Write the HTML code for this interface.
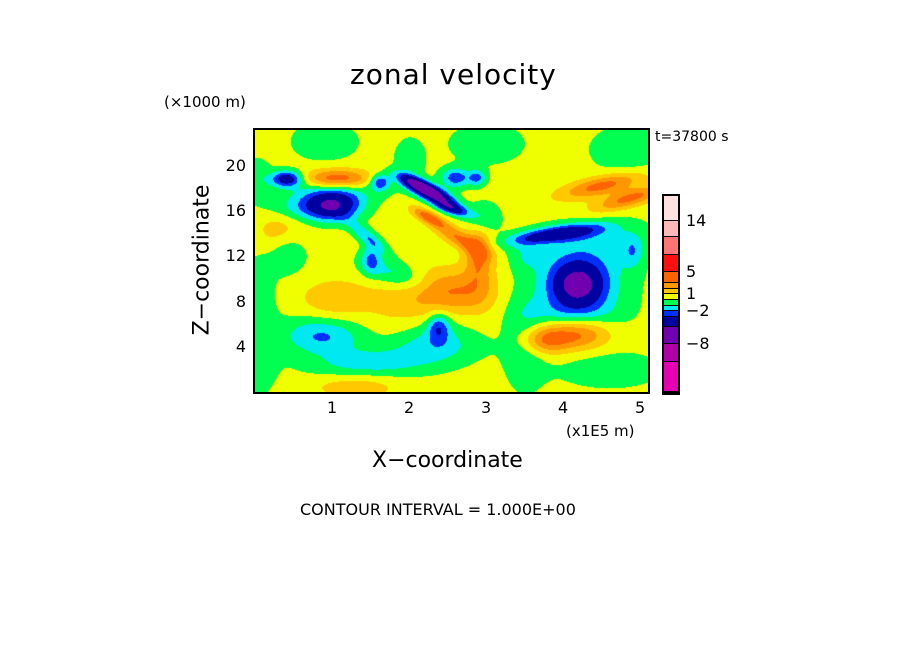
<!DOCTYPE html>
<html><head><meta charset="utf-8"><style>
body{margin:0;background:#fff;}
#root{position:relative;width:904px;height:654px;background:#fff;font-family:"DejaVu Sans","Liberation Sans",sans-serif;color:#000;}
.t{position:absolute;white-space:nowrap;}
</style></head><body>
<div id="root">
<div class="t" style="left:350px;top:58px;font-size:28px;letter-spacing:1px;">zonal velocity</div>
<div class="t" style="left:164px;top:93px;font-size:15px;">(×1000 m)</div>
<div class="t" style="left:655px;top:129px;font-size:14px;">t=37800 s</div>
<div class="t" style="left:202px;top:260px;font-size:22px;transform:translate(-50%,-50%) rotate(-90deg);">Z−coordinate</div>
<div class="t" style="left:372px;top:448px;font-size:22px;">X−coordinate</div>
<div class="t" style="left:566px;top:422px;font-size:15px;">(x1E5 m)</div>
<div class="t" style="left:300px;top:500px;font-size:16px;">CONTOUR INTERVAL = 1.000E+00</div>
<canvas id="cv" width="393" height="262" style="position:absolute;left:255px;top:130px;"></canvas>
<div style="position:absolute;left:254px;top:129px;width:393px;height:262px;border:2px solid #000;margin:-1px 0 0 -1px;"></div>
<div id="cbar" style="position:absolute;left:662px;top:194px;width:14px;height:197px;border:2px solid #000;background:#000;"></div>
</div>
<script>
const levels=[-11,-8,-5,-3,-2,-1,0,1,2,3,5,8,11,14];
const colors=["#e600b4","#b000a8","#7000b0","#0000a0","#0030ff","#00e8f0","#00ff50","#f0ff00","#ffc800","#ff9800","#ff6400","#ff1010","#ff7474","#ffb8b8","#ffe0e0"];
const cbTickLabels=["14","5","1","−2","−8"];
const cbTickValues=[14,5,1,-2,-8];
const xTicks=[1,2,3,4,5];
const zTicks=[4,8,12,16,20];
const baseValue=0.4;
const blobX=[1.0,0.41,2.05,2.3,2.55,2.25,2.65,1.06,3.9,4.18,4.5,4.87,2.5,2.0,4.2,3.75,0.85,2.38,1.5,1.45,1.8,2.96,4.9,1.62,2.6,2.88,0.9,4.85,0.05,1.7,3.5,0.4,0.3,1.0,2.9,4.25,0.0,4.1,1.0,4.2,3.0,2.9,0.05,2.3,2.35,1.3,0.5,3.5,4.5,0.9,1.2,4.6,2.0];
const blobZ=[16.5,18.9,18.6,17.6,16.3,15.5,13.6,18.9,14.0,9.5,18.3,17.2,9.0,8.0,5.2,4.7,4.8,5.8,11.8,13.8,10.5,15.4,12.5,18.6,19.0,19.0,22.2,21.5,8.0,2.6,4.5,12.4,14.0,8.0,12.4,9.5,19.0,7.0,17.8,11.8,22.0,9.0,2.0,4.0,5.0,0.6,16.3,12.2,14.0,6.0,2.5,2.0,20.5];
const blobAmp=[-5.2,-4.5,-4.2,-6.2,-4.2,3.2,2.6,3.6,-4.4,-4.9,3.1,3.0,2.0,1.2,3.0,3.0,-1.9,-2.6,-2.2,-2.2,-1.8,-1.6,-1.8,-3.4,-3.1,-2.6,-1.2,-1.2,-1.1,-1.1,-1.3,-1.8,1.5,1.5,2.8,-1.7,-1.2,-1.2,-1.4,-1.0,-1.1,1.2,-1.0,-1.0,-1.2,1.3,-1.4,-1.0,-1.0,-1.0,-1.0,-1.0,-1.0];
const blobSX=[0.25,0.14,0.12,0.14,0.12,0.1,0.14,0.3,0.32,0.24,0.28,0.22,0.3,0.45,0.28,0.22,0.35,0.1,0.09,0.1,0.25,0.15,0.1,0.09,0.13,0.08,0.3,0.35,0.15,0.5,0.2,0.18,0.22,0.3,0.12,0.45,0.15,0.4,0.45,0.4,0.35,0.2,0.15,0.45,0.35,0.4,0.3,0.15,0.5,0.4,0.5,0.5,0.15];
const blobSZ=[0.9,0.5,0.6,0.7,0.5,0.6,1.0,0.6,0.6,1.3,0.8,0.8,1.3,1.8,1.0,0.9,1.0,0.9,0.9,1.0,1.0,1.0,1.0,0.5,0.6,0.5,1.2,1.5,3.5,0.9,3.0,1.3,1.6,1.3,1.6,2.6,1.2,1.0,0.8,1.2,1.3,1.5,1.5,1.0,1.5,0.8,0.8,1.0,1.0,1.2,1.0,1.2,1.5];
const blobShear=[0,0,0.19,0.19,0.19,0.19,0.19,0,-0.41,0,-0.3,-0.3,0,0,0,0,0,0,0,0.15,0.15,0,0,0,0,0,0,0,0,0,0,0,0,0,0,0,0,0,0,0,0,0,0,0,0,0,0,0,0,0,0,0,0];
const W=393,H=262,X0=255,PXU=77,PZU=11.3;
function xScale(x){return X0+x*PXU;}
function zScale(z){return 392-z*PZU;}
function field(x,z){let v=baseValue;for(let i=0;i<blobX.length;i++){
 const dz=(z-blobZ[i])/blobSZ[i];const dx=(x-blobX[i]+blobShear[i]*(z-blobZ[i]))/blobSX[i];
 const e=dx*dx+dz*dz;if(e<30)v+=blobAmp[i]*Math.exp(-0.5*e);}return v;}
function colorFor(v){let k=0;while(k<levels.length&&v>=levels[k])k++;return colors[k];}
const ctx=document.getElementById('cv').getContext('2d');
for(let py=0;py<H;py++){for(let px=0;px<W;px++){const x=px/PXU,z=(262-py)/PZU;ctx.fillStyle=colorFor(field(x,z));ctx.fillRect(px,py,1,1);}}
const root=document.getElementById('root');
xTicks.forEach(t=>{const d=document.createElement('div');d.className='t';


d.style.left=(xScale(t)-5)+'px';d.style.top='398px';d.style.fontSize='16px';d.textContent=t;root.appendChild(d);});
zTicks.forEach(t=>{const d=document.createElement('div');d.className='t';


d.style.right=(904-246)+'px';d.style.top=(zScale(t)-10)+'px';d.style.fontSize='16px';d.textContent=t;root.appendChild(d);});
const cb=document.getElementById('cbar');
const cbBounds=[392,362,344,327,317,311,306,300,294,289,283,272,255,237,221,196];
for(let i=0;i<colors.length;i++){const s=document.createElement('div');


const top=cbBounds[i+1]-196,h=cbBounds[i]-cbBounds[i+1];
s.style.cssText=`position:absolute;left:0;width:14px;top:${top}px;height:${h-1}px;background:${colors[i]};`;cb.appendChild(s);}
cbTickLabels.forEach((lab,i)=>{const k=levels.indexOf(cbTickValues[i]);const y=cbBounds[k+1];const d=document.createElement('div');d.className='t';


d.style.left='686px';d.style.top=(y-10)+'px';d.style.fontSize='16px';d.textContent=lab;root.appendChild(d);});
</script>
</body></html>
